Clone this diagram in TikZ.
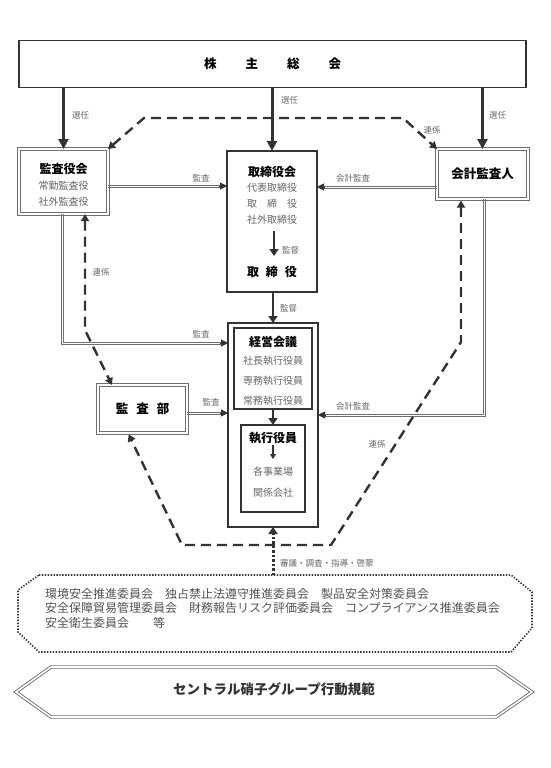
\documentclass[tikz,border=0pt]{standalone}
\usepackage{fontspec}
\setmainfont{Noto Sans CJK JP}
\usetikzlibrary{arrows.meta}
\definecolor{ink}{HTML}{333333}
\definecolor{soft}{HTML}{666666}
\definecolor{frame}{HTML}{6E6E6E}

\begin{document}
\begin{tikzpicture}[x=1pt, y=-1pt,
  every node/.style={inner sep=0pt, outer sep=0pt},
  sbox/.style={draw=ink, line width=1.3pt, fill=white},
  dbox/.style={draw=frame, double=white, double distance=1.6pt, line width=0.8pt},
  title/.style={font=\fontsize{12}{14}\selectfont\bfseries, text=black},
  member/.style={font=\fontsize{10}{16}\selectfont, text=soft, align=center},
  tag/.style={font=\fontsize{8.5}{10}\selectfont, text=soft},
  elect/.style={draw=ink, line width=3pt, -{Triangle[length=10pt, width=10pt]}},
  rail/.style={draw=frame, line width=0.8pt},
  railtip/.style={draw=ink, line width=0.4pt, -{Triangle[length=7pt, width=7pt]}},
  liaison/.style={draw=ink, line width=2.4pt, dash pattern=on 10pt off 6pt,
    {Triangle[length=7pt, width=8pt]}-{Triangle[length=7pt, width=8pt]}},
  oversee/.style={draw=ink, line width=2.8pt, -{Triangle[length=7pt, width=9pt]}},
  guide/.style={draw=ink, line width=3pt, dash pattern=on 2.5pt off 2pt, -{Triangle[length=7pt, width=9pt]}}
]
\useasboundingbox (0,0) rectangle (550,768);

% shareholders and the three bodies below
\node[sbox, line width=1.5pt, minimum width=507pt, minimum height=47pt, title, font=\fontsize{12.5}{14}\selectfont\bfseries] (gm) at (272.5,64)
  {株\hspace{29pt}主\hspace{29pt}総\hspace{29pt}会};

\node[dbox, minimum width=89pt, minimum height=65pt] (kansayaku) at (63.5,181.5) {};
\node[title] (kansayakuT) at (63.5,169) {監査役会};
\node[member] (kansayakuM) at (63.5,194) {常勤監査役\\社外監査役};

\node[sbox, minimum width=90pt, minimum height=141pt] (torishimari) at (272,221.5) {};
\node[title] (torishimariT) at (272,172) {取締役会};
\node[member] (torishimariM) at (272,204) {代表取締役\\取　締　役\\社外取締役};
\coordinate (supTop) at (274,231);
\coordinate (supBot) at (274,256);
\draw[oversee] (supTop) -- (supBot);
\node[tag, anchor=west] (supT) at (282,250) {監督};
\node[title] (torishimariB) at (272,272) {取\hspace{7pt}締\hspace{7pt}役};

\node[dbox, minimum width=91pt, minimum height=50pt, title, font=\fontsize{12.5}{14}\selectfont\bfseries] (kaikei) at (482.5,174) {会計監査人};

% executive block
\node[sbox, line width=1.5pt, minimum width=90pt, minimum height=204pt] (exec) at (273,425) {};
\node[sbox, line width=1.2pt, minimum width=78pt, minimum height=81pt] (keiei) at (273,368.5) {};
\node[title] (keieiT) at (273,342) {経営会議};
\node[member, font=\fontsize{10}{20}\selectfont] (keieiM) at (273,381) {社長執行役員\\専務執行役員\\常務執行役員};
\node[sbox, line width=1.2pt, minimum width=64pt, minimum height=87pt] (shikko) at (273,468.5) {};
\node[title] (shikkoT) at (273,438) {執行役員};
\coordinate (shTop) at (273,445);
\coordinate (shBot) at (273,459);
\draw[draw=ink, line width=1.6pt, -{Triangle[length=5pt, width=6pt]}] (shTop) -- (shBot);
\node[member, font=\fontsize{10}{21}\selectfont] (shikkoM) at (273,482.5) {各事業場\\関係会社};
\draw[oversee] (keiei.south) -- (shikko.north);

\node[dbox, minimum width=89pt, minimum height=48pt, title, font=\fontsize{12.5}{14}\selectfont\bfseries] (naibu) at (142.5,409)
  {監\hspace{8pt}査\hspace{8pt}部};

% election
\draw[elect] (gm.south -| kansayaku.north) -- (kansayaku.north);
\draw[elect] (gm.south -| torishimari.north) -- (torishimari.north);
\draw[elect] (gm.south -| kaikei.north) -- (kaikei.north);
\node[tag, anchor=west] (elect1) at (72,115) {選任};
\node[tag, anchor=west] (elect2) at (281,100) {選任};
\node[tag, anchor=west] (elect3) at (489,115) {選任};

% supervision
\draw[oversee] (torishimari.south -| exec.north) -- (exec.north);
\node[tag, anchor=west] (supT2) at (280,308) {監督};

% audits (two rails and a head)
\coordinate (a1) at (0,186);
\coordinate (a2) at (0,187);
\coordinate (a3) at (62,343);
\coordinate (a4) at (0,413);
\coordinate (a5) at (484,415);
\draw[rail] ([yshift=1.1pt]kansayaku.east |- a1) -- ([xshift=-6pt, yshift=1.1pt]torishimari.west |- a1)
            ([yshift=-1.1pt]kansayaku.east |- a1) -- ([xshift=-6pt, yshift=-1.1pt]torishimari.west |- a1);
\draw[railtip] ([xshift=-8pt]torishimari.west |- a1) -- (torishimari.west |- a1);
\node[tag] (audit1) at (201,178) {監査};
\draw[rail] ([yshift=1.1pt]kaikei.west |- a2) -- ([xshift=6pt, yshift=1.1pt]torishimari.east |- a2)
            ([yshift=-1.1pt]kaikei.west |- a2) -- ([xshift=6pt, yshift=-1.1pt]torishimari.east |- a2);
\draw[railtip] ([xshift=8pt]torishimari.east |- a2) -- (torishimari.east |- a2);
\node[tag] (audit2) at (353,178) {会計監査};
\draw[rail] ([xshift=-1.1pt]kansayaku.south -| a3) -- ([xshift=-1.1pt, yshift=-1.1pt]a3) -- ([xshift=-6pt, yshift=-1.1pt]exec.west |- a3)
            ([xshift=1.1pt]kansayaku.south -| a3) -- ([xshift=1.1pt, yshift=1.1pt]a3) -- ([xshift=-6pt, yshift=1.1pt]exec.west |- a3);
\draw[railtip] ([xshift=-8pt]exec.west |- a3) -- (exec.west |- a3);
\node[tag] (audit3) at (201,334) {監査};
\draw[rail] ([yshift=1.1pt]naibu.east |- a4) -- ([xshift=-6pt, yshift=1.1pt]exec.west |- a4)
            ([yshift=-1.1pt]naibu.east |- a4) -- ([xshift=-6pt, yshift=-1.1pt]exec.west |- a4);
\draw[railtip] ([xshift=-8pt]exec.west |- a4) -- (exec.west |- a4);
\node[tag] (audit4) at (211,402) {監査};
\draw[rail] ([xshift=1.1pt]kaikei.south -| a5) -- ([xshift=1.1pt, yshift=-1.1pt]a5) -- ([xshift=6pt, yshift=-1.1pt]exec.east |- a5)
            ([xshift=-1.1pt]kaikei.south -| a5) -- ([xshift=-1.1pt, yshift=1.1pt]a5) -- ([xshift=6pt, yshift=1.1pt]exec.east |- a5);
\draw[railtip] ([xshift=8pt]exec.east |- a5) -- (exec.east |- a5);
\node[tag] (audit5) at (353,406) {会計監査};

% liaison
\coordinate (topL) at (144,118);
\coordinate (topR) at (403,118);
\draw[liaison] (kansayaku.north east) -- (topL) -- (topR) -- (kaikei.north west);
\node[tag] (liaison1) at (432,130) {連係};
\coordinate (leftBend) at (85,330);
\draw[liaison] (kansayaku.south -| leftBend) -- (leftBend) -- (naibu.north -| 112,0);
\node[tag] (liaison2) at (101,272) {連係};
\coordinate (rightBend) at (461,342);
\coordinate (lowR) at (331,545);
\coordinate (lowL) at (182,545);
\draw[liaison, shorten <=1.5pt, shorten >=1.5pt] (kaikei.south -| rightBend) -- (rightBend) -- (lowR) -- (lowL) -- (naibu.south -| 128,0);
\node[tag] (liaison3) at (377,444) {連係};

% committees
\draw[draw=ink, line width=1.6pt, dash pattern=on 1.4pt off 1.5pt]
  (39,575) -- (511,575) -- (532,592) -- (532,628) -- (511,652) -- (39,652) -- (18,632) -- (18,590) -- cycle;
\coordinate (iinkai) at (273,575);
\node[anchor=west, align=left, font=\fontsize{12}{14.5}\selectfont, text=ink!85] (iinkaiT) at (45,608)
  {環境安全推進委員会　独占禁止法遵守推進委員会　製品安全対策委員会\\
   安全保障貿易管理委員会　財務報告リスク評価委員会　コンプライアンス推進委員会\\
   安全衛生委員会　　等};
\draw[guide] (iinkai) -- (exec.south);
\node[tag, anchor=west] (guideT) at (280,563) {審議・調査・指導・啓蒙};

% code of conduct
\draw[draw=frame, double=white, double distance=1.6pt, line width=0.9pt]
  (16,692) -- (51,667) -- (496,667) -- (532,692) -- (496,717) -- (51,717) -- cycle;
\node[font=\fontsize{13.5}{16}\selectfont\bfseries, text=ink] (kodo) at (274,689) {セントラル硝子グループ行動規範};
\end{tikzpicture}
\end{document}
